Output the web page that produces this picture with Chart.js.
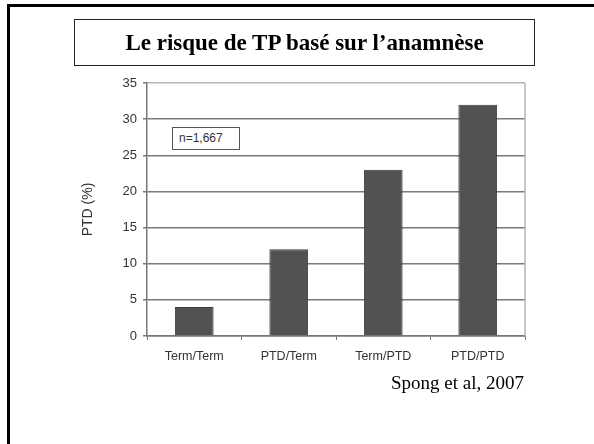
<!DOCTYPE html>
<html>
<head>
<meta charset="utf-8">
<script src="https://cdn.jsdelivr.net/npm/chart.js@4/dist/chart.umd.min.js"></script>
<style>
  html, body { margin: 0; padding: 0; background: #fff; }
  #wrap { position: relative; width: 594px; height: 444px; overflow: hidden; }
  #c { position: absolute; left: 0; top: 0; }
  #slide { position: absolute; left: 7px; top: 4px; width: 600px; height: 460px;
           border-left: 3px solid #000; border-top: 3px solid #000; box-sizing: border-box; }
  #titlebox { position: absolute; left: 74px; top: 19px; width: 461px; height: 47px;
              border: 1.5px solid #222; box-sizing: border-box; display: flex;
              align-items: center; justify-content: center;
              font-family: "Liberation Serif", "Times New Roman", serif; font-weight: bold;
              font-size: 23px; color: #000; }
  #nbox { position: absolute; left: 172px; top: 127px; width: 68px; height: 23px;
          border: 1px solid #555; box-sizing: border-box; background: #fff;
          font-family: "Liberation Sans", Arial, sans-serif; font-size: 12px; color: #333;
          line-height: 21px; padding-left: 6px; }
  #source { position: absolute; right: 70px; top: 372px;
            font-family: "Liberation Serif", "Times New Roman", serif; font-size: 19px; color: #000; }
</style>
</head>
<body>
<div id="wrap">
  <canvas id="c" width="594" height="444"></canvas>
  <div id="slide"></div>
  <div id="titlebox">Le risque de TP basé sur l’anamnèse</div>
  <div id="nbox">n=1,667</div>
  <div id="source">Spong et al, 2007</div>
</div>
<script>
const categories = ["Term/Term", "PTD/Term", "Term/PTD", "PTD/PTD"];
const ptdValues = [4, 12, 23, 32];
const yTicks = [0, 5, 10, 15, 20, 25, 30, 35];
const yAxisTitle = "PTD (%)";

const framePlugin = {
  id: 'frame',
  beforeDatasetsDraw(chart) {
    const a = chart.chartArea, ctx = chart.ctx;
    ctx.save();
    ctx.strokeStyle = '#b5b5b5';
    ctx.lineWidth = 1.5;
    ctx.beginPath();
    ctx.moveTo(a.right, a.top);
    ctx.lineTo(a.right, a.bottom);
    ctx.stroke();
    ctx.restore();
  }
};

new Chart(document.getElementById('c'), {
  type: 'bar',
  data: {
    labels: categories,
    datasets: [{
      data: ptdValues,
      backgroundColor: '#525252',
      borderColor: '#3a3a3a',
      borderWidth: 1,
      barPercentage: 0.41,
      categoryPercentage: 1.0
    }]
  },
  options: {
    responsive: false,
    animation: false,
    devicePixelRatio: 1,
    layout: { padding: { left: 76, right: 69, top: 83, bottom: 68 } },
    plugins: { legend: { display: false }, tooltip: { enabled: false } },
    scales: {
      x: {
        afterFit: s => { s.height = 40; },
        grid: { drawOnChartArea: false, drawTicks: true, tickLength: 4, offset: true, color: '#777' },
        border: { color: '#777', width: 1.5 },
        ticks: { color: '#333', padding: 9, font: { family: '"Liberation Sans", Arial, sans-serif', size: 12.5 } }
      },
      y: {
        min: 0, max: 35,
        afterFit: s => { s.width = 71; },
        afterBuildTicks: s => { s.ticks = yTicks.map(v => ({ value: v })); },
        grid: {
          color: ctx => (ctx.tick && ctx.tick.value === 35) ? '#b5b5b5' : '#7a7a7a',
          lineWidth: 1.5,
          tickLength: 4,
          tickColor: '#777'
        },
        border: { color: '#777', width: 1.5 },
        ticks: { color: '#333', padding: 6, font: { family: '"Liberation Sans", Arial, sans-serif', size: 13 } },
        title: { display: true, text: yAxisTitle, color: '#333', padding: 4,
                 font: { family: '"Liberation Sans", Arial, sans-serif', size: 14 } }
      }
    }
  },
  plugins: [framePlugin]
});
</script>
</body>
</html>
